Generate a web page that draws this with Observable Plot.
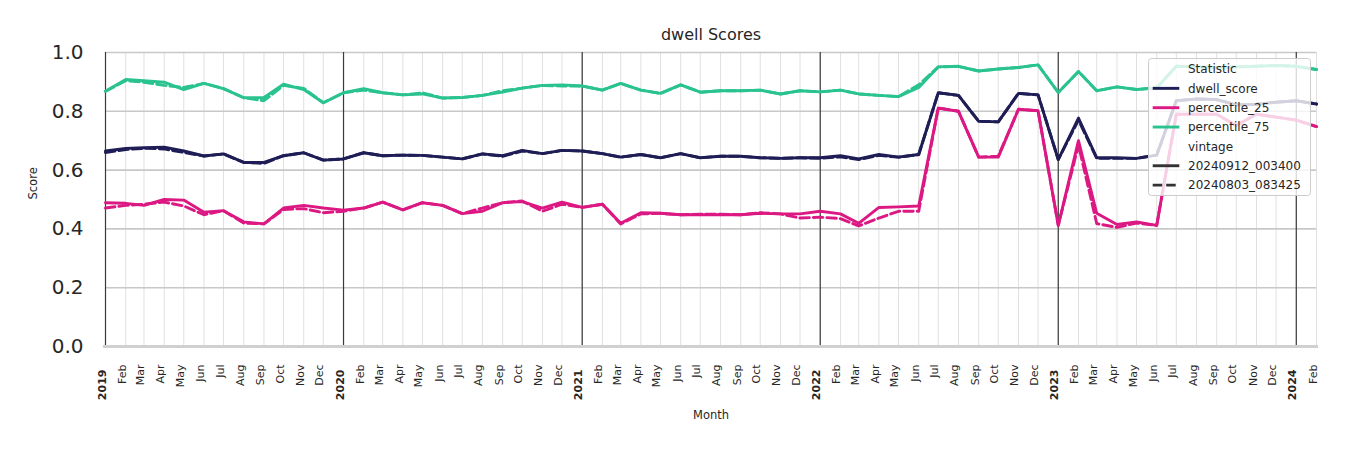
<!DOCTYPE html>
<html><head><meta charset="utf-8">
<script src="https://cdn.jsdelivr.net/npm/d3@7"></script>
<script src="https://cdn.jsdelivr.net/npm/@observablehq/plot@0.6"></script>
<style>
body{margin:0;background:#fff;font-family:"DejaVu Sans",sans-serif;}
#wrap{position:relative;width:1350px;height:450px;overflow:hidden;}
#legend{position:absolute;left:1148px;top:58px;}
</style></head><body><div id="wrap"></div>
<script>
// ---- data ----
const firstMonth = "2019-01-01";
const lastMonth = "2024-02-01";
const titleText = "dwell Scores";
const xLabel = "Month";
const yLabel = "Score";
const yTicks = [0, 0.2, 0.4, 0.6, 0.8, 1.0];
const statistics = ["dwell_score", "percentile_25", "percentile_75"];
const statColors = ["#1f1d55", "#dc1883", "#2ac38f"];
const vintages = ["20240912_003400", "20240803_083425"];
const legendTitles = ["Statistic", "vintage"];

const dwellNew = [0.665,0.674,0.676,0.678,0.665,0.648,0.655,0.626,0.626,0.649,0.659,0.634,
  0.638,0.659,0.649,0.651,0.650,0.644,0.638,0.655,0.649,0.667,0.656,0.667,
  0.665,0.656,0.644,0.653,0.642,0.656,0.642,0.647,0.647,0.642,0.640,0.642,
  0.642,0.649,0.638,0.653,0.644,0.653,0.863,0.854,0.766,0.764,0.861,0.856,
  0.636,0.777,0.642,0.642,0.640,0.651,0.836,0.842,0.840,0.822,0.824,0.831,0.836,0.825];
const dwellOld = [0.660,0.670,0.674,0.672,0.660,0.648,0.655,0.626,0.623,0.649,0.659,0.634,
  0.638,0.659,0.649,0.651,0.650,0.644,0.638,0.655,0.647,0.665,0.656,0.667,
  0.665,0.656,0.644,0.653,0.642,0.656,0.642,0.647,0.647,0.642,0.640,0.642,
  0.640,0.645,0.636,0.650,0.644,0.653,0.863,0.854,0.766,0.764,0.861,0.856,
  0.636,0.770,0.640,0.640,0.640,0.651,0.836,0.842,0.840,0.822,0.824,0.831,0.836,0.825];
const p25New = [0.489,0.487,0.480,0.500,0.498,0.457,0.462,0.424,0.417,0.471,0.480,0.471,
  0.464,0.471,0.491,0.465,0.489,0.480,0.452,0.460,0.489,0.493,0.471,0.491,
  0.473,0.484,0.419,0.455,0.453,0.448,0.448,0.448,0.448,0.453,0.451,0.451,
  0.460,0.451,0.419,0.473,0.475,0.478,0.811,0.800,0.644,0.644,0.807,0.802,
  0.412,0.700,0.453,0.415,0.424,0.412,0.790,0.790,0.790,0.752,0.790,0.780,0.770,0.748];
const p25Old = [0.471,0.480,0.484,0.491,0.478,0.448,0.462,0.420,0.417,0.466,0.469,0.455,
  0.460,0.471,0.491,0.465,0.489,0.480,0.452,0.471,0.489,0.495,0.460,0.484,
  0.473,0.484,0.417,0.451,0.453,0.448,0.450,0.450,0.448,0.455,0.451,0.437,
  0.440,0.435,0.410,0.437,0.460,0.460,0.811,0.800,0.644,0.647,0.807,0.802,
  0.412,0.685,0.418,0.405,0.420,0.412,0.790,0.790,0.790,0.752,0.790,0.780,0.770,0.748];
const p75New = [0.868,0.908,0.904,0.899,0.874,0.895,0.877,0.846,0.847,0.892,0.874,0.829,
  0.863,0.877,0.863,0.856,0.859,0.845,0.847,0.854,0.865,0.879,0.888,0.890,
  0.886,0.872,0.895,0.872,0.861,0.890,0.865,0.870,0.870,0.872,0.859,0.870,
  0.866,0.872,0.859,0.854,0.850,0.881,0.951,0.953,0.937,0.944,0.949,0.958,
  0.864,0.935,0.870,0.883,0.874,0.880,0.953,0.951,0.949,0.951,0.953,0.956,0.953,0.942];
const p75Old = [0.868,0.904,0.899,0.888,0.881,0.895,0.877,0.846,0.836,0.888,0.878,0.829,
  0.863,0.872,0.863,0.856,0.863,0.845,0.847,0.854,0.870,0.879,0.888,0.886,
  0.886,0.872,0.895,0.872,0.861,0.890,0.865,0.870,0.870,0.872,0.859,0.870,
  0.866,0.872,0.859,0.854,0.850,0.890,0.951,0.953,0.937,0.944,0.949,0.958,
  0.864,0.935,0.870,0.883,0.874,0.880,0.953,0.951,0.949,0.951,0.953,0.956,0.953,0.942];

// ---- build table ----
const months = d3.utcMonth.range(new Date(firstMonth), d3.utcMonth.offset(new Date(lastMonth), 1));
const years = months.filter(d => d.getUTCMonth() === 0);
const otherMonths = months.filter(d => d.getUTCMonth() !== 0);
const series = [
  [statistics[0], vintages[0], dwellNew], [statistics[0], vintages[1], dwellOld],
  [statistics[1], vintages[0], p25New],   [statistics[1], vintages[1], p25Old],
  [statistics[2], vintages[0], p75New],   [statistics[2], vintages[1], p75Old]
];
const rows = series.flatMap(([statistic, vintage, vals]) =>
  vals.map((value, i) => ({month: months[i], value, statistic, vintage})));

const font = "DejaVu Sans";
const ink = "#262626";
const lw = 2.9;

const chart = Plot.plot({
  width: 1350, height: 450,
  marginLeft: 105, marginRight: 34, marginTop: 52, marginBottom: 104,
  style: {fontFamily: font, color: ink, background: "transparent"},
  x: {type: "utc", domain: [new Date(firstMonth), new Date(lastMonth)], axis: null},
  y: {domain: [0, 1]},
  color: {domain: statistics, range: statColors},
  marks: [
    Plot.ruleX(months, {stroke: "#e0e0e0", strokeWidth: 1}),
    Plot.ruleY(yTicks.slice(1), {stroke: "#c8c8c8", strokeWidth: 1.6}),
    Plot.ruleX(years, {stroke: "#3a3a3a", strokeWidth: 1.2}),
    Plot.ruleY([0], {stroke: "#d0d0d0", strokeWidth: 3, x1: new Date(firstMonth), x2: new Date(lastMonth), insetLeft: -2, insetRight: -2}),
    Plot.line(rows.filter(d => d.vintage === vintages[0]), {x: "month", y: "value", z: "statistic", stroke: "statistic", strokeWidth: lw}),
    Plot.line(rows.filter(d => d.vintage === vintages[1]), {x: "month", y: "value", z: "statistic", stroke: "statistic", strokeWidth: lw, strokeDasharray: "9.5,4"}),
    Plot.axisY(yTicks, {tickSize: 0, tickPadding: 22, fontSize: 20, tickFormat: d3.format(".1f"), label: null, fill: ink}),
    Plot.text(otherMonths, {x: d => d, frameAnchor: "bottom", dy: 18, rotate: -90, textAnchor: "end", text: d3.utcFormat("%b"), fontSize: 11, fill: ink}),
    Plot.text(years, {x: d => d, frameAnchor: "bottom", dy: 23, rotate: -90, textAnchor: "end", text: d3.utcFormat("%Y"), fontSize: 11, fontWeight: "bold", fill: ink}),
    Plot.text([titleText], {frameAnchor: "top", dy: -13, lineAnchor: "bottom", fontSize: 16, fill: ink}),
    Plot.text([xLabel], {frameAnchor: "bottom", dy: 72, lineAnchor: "bottom", fontSize: 11.5, fill: ink}),
    Plot.text([yLabel], {frameAnchor: "left", dx: -72, rotate: -90, fontSize: 11.5, fill: ink})
  ]
});
document.getElementById("wrap").appendChild(chart);

// ---- legend (semi-transparent box over the plot) ----
const lg = d3.select("#wrap").append("svg").attr("id", "legend").attr("width", 164).attr("height", 140);
lg.append("rect").attr("x", 0.5).attr("y", 0.5).attr("width", 162).attr("height", 137).attr("rx", 3)
  .attr("fill", "white").attr("fill-opacity", 0.8).attr("stroke", "#cccccc");
const entries = [
  {label: legendTitles[0]},
  ...statistics.map((s, i) => ({label: s, color: statColors[i]})),
  {label: legendTitles[1]},
  {label: vintages[0], color: "#333333"},
  {label: vintages[1], color: "#333333", dash: "9.5,4"}
];
entries.forEach((e, i) => {
  const y = 11 + 19.35 * i;
  if (e.color) {
    lg.append("line").attr("x1", 4.7).attr("x2", 31.3).attr("y1", y).attr("y2", y)
      .attr("stroke", e.color).attr("stroke-width", lw).attr("stroke-dasharray", e.dash || null);
  }
  lg.append("text").attr("x", 40).attr("y", y).attr("dy", "0.35em")
    .attr("font-family", font).attr("font-size", 12).attr("fill", ink).text(e.label);
});
</script></body></html>
